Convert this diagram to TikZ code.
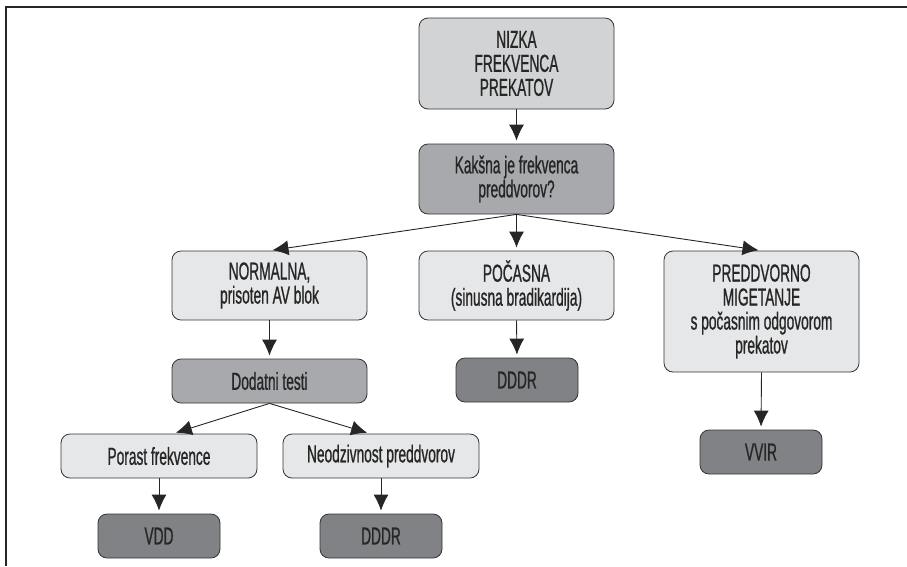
\documentclass[tikz,border=0pt]{standalone}
\usepackage{fontspec}
\setmainfont{Liberation Sans}[FakeStretch=0.56,FakeBold=0.8]
\usepackage{tikz}
\usetikzlibrary{arrows.meta}
\definecolor{grey10}{HTML}{E6E7E8}
\definecolor{grey20}{HTML}{D1D3D4}
\definecolor{grey40}{HTML}{A7A9AC}
\definecolor{grey60}{HTML}{808285}

\begin{document}
\begin{tikzpicture}[x=1pt,y=-1pt]
\tikzstyle{box} = [draw=black!80, line width=0.8pt, rounded corners=9pt, align=center,
    font=\fontsize{24.5}{24}\selectfont, text=black!85, inner sep=0pt]
\tikzstyle{wide} = [box, minimum width=195pt]
\tikzstyle{small} = [box, minimum width=122pt, minimum height=44pt, fill=grey60]
\tikzstyle{arr} = [draw=black!85, line width=0.9pt, -{Latex[length=16pt,width=15pt]}, shorten >=3pt]
\useasboundingbox (0,0) rectangle (907,566);
\draw[line width=1.6pt, black!85] (6,566) -- (6,7) -- (907,7);
% top
\node[wide, minimum height=91pt, fill=grey20] (nizka) at (516.5,63.5) {NIZKA\\FREKVENCA\\PREKATOV};
\node[wide, minimum height=70pt, fill=grey40] (kaksna) at (516.5,179) {Kakšna je frekvenca\\preddvorov?};
% second row
\node[wide, minimum height=69pt, fill=grey10] (normalna) at (269.5,285.5) {NORMALNA,\\prisoten AV blok};
\node[wide, minimum height=69pt, fill=grey10] (pocasna) at (516.5,285.5) {POČASNA\\(sinusna bradikardija)};
\node[wide, minimum height=121pt, fill=grey10] (preddvorno) at (761.5,311.5) {PREDDVORNO\\MIGETANJE\\s počasnim odgovorom\\prekatov};
% below
\node[wide, minimum height=44pt, fill=grey40] (dodatni) at (269.5,381) {Dodatni testi};
\node[small] (dddrA) at (517,380) {DDDR};
\node[small] (vvir) at (761,452) {VVIR};
\node[box, minimum width=196pt, minimum height=44pt, fill=grey10] (porast) at (159,456) {Porast frekvence};
\node[box, minimum width=196pt, minimum height=44pt, fill=grey10] (neodziv) at (381,456) {Neodzivnost preddvorov};
\node[small] (vdd) at (159,536) {VDD};
\node[small] (dddrB) at (381,536) {DDDR};
% arrows
\draw[arr] (nizka.south) -- (kaksna.north);
\draw[arr] (kaksna.south) -- (normalna.north);
\draw[arr] (kaksna.south) -- (pocasna.north);
\draw[arr] (kaksna.south) -- (preddvorno.north);
\draw[arr] (normalna.south) -- (dodatni.north);
\draw[arr] (pocasna.south) -- (dddrA.north);
\draw[arr] (preddvorno.south) -- (vvir.north);
\draw[arr] (dodatni.south) -- ([xshift=14pt]porast.north);
\draw[arr] (dodatni.south) -- ([xshift=-11pt]neodziv.north);
\draw[arr] (porast.south) -- (vdd.north);
\draw[arr] (neodziv.south) -- (dddrB.north);
\end{tikzpicture}
\end{document}
